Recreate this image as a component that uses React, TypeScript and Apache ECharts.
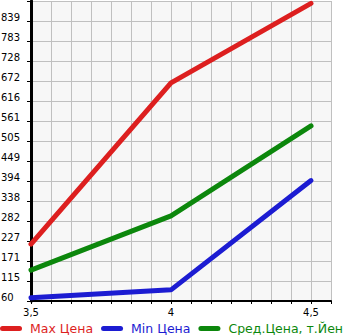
import React, { useEffect, useRef } from "react";
import * as echarts from "echarts";

const engineSizes = [3.5, 4, 4.5];
const maxPrice = [218, 667, 888];
const minPrice = [69, 91, 395];
const avgPrice = [146, 297, 547];
const yTickLabels = ["60", "115", "171", "227", "282", "338", "394", "449", "505", "561", "616", "672", "728", "783", "839"];
const xTickLabels: Record<string, string> = { "3.5": "3,5", "4": "4", "4.5": "4,5" };
const seriesNames = ["Max Цена", "Min Цена", "Сред.Цена, т.Йен"];
const seriesColors = ["#dd1f1f", "#1c1cd2", "#0c870c"];

const Y_MIN = 60;
const Y_STEP = (839 - 60) / 14;
const X_STEP = 1 / 14;

export default function App() {
  const ref = useRef<HTMLDivElement>(null);
  useEffect(() => {
    if (!ref.current) return;
    const chart = echarts.init(ref.current, null, { renderer: "svg" });
    const font = "DejaVu Sans";
    const mk = (vals: number[]) => engineSizes.map((x, i) => [x, vals[i]]);
    const all = [maxPrice, minPrice, avgPrice];
    chart.setOption({
      animation: false,
      grid: {
        left: 31,
        top: 1,
        right: 14,
        bottom: 34,
        containLabel: false,
        outerBoundsMode: "none",
        show: true,
        backgroundColor: "#f7f7f7",
        borderWidth: 0,
      },
      legend: {
        left: 0,
        top: 322,
        padding: 0,
        itemWidth: 22,
        itemHeight: 5,
        itemGap: 8,
        icon: "path://M2.5,0 L19.5,0 A2.5,2.5 0 0 1 19.5,5 L2.5,5 A2.5,2.5 0 0 1 2.5,0 Z",
        textStyle: { fontFamily: font, fontSize: 12.5, padding: [0, 0, 0, 3] },
        data: seriesNames.map((n, i) => ({ name: n, textStyle: { color: seriesColors[i] } })),
      },
      xAxis: {
        type: "value",
        min: 3.5,
        max: 4.5 + X_STEP,
        interval: X_STEP,
        axisLine: { show: true, onZero: false, lineStyle: { color: "#000", width: 2 } },
        axisTick: { show: true, length: 3, lineStyle: { color: "#000", width: 1 } },
        splitLine: { show: true, lineStyle: { color: "#c0c0c0", width: 1 } },
        axisLabel: {
          fontFamily: font,
          fontSize: 10,
          color: "#000",
          margin: 6,
          showMaxLabel: false,
          formatter: (v: number) => {
            const key = String(Math.round(v * 100) / 100);
            return xTickLabels[key] ?? "";
          },
        },
      },
      yAxis: {
        type: "value",
        min: Y_MIN,
        max: Y_MIN + 15 * Y_STEP,
        interval: Y_STEP,
        axisLine: { show: true, onZero: false, lineStyle: { color: "#000", width: 3 } },
        axisTick: { show: true, length: 4, lineStyle: { color: "#000", width: 1 } },
        splitLine: { show: true, lineStyle: { color: "#c0c0c0", width: 1 } },
        axisLabel: {
          fontFamily: font,
          fontSize: 10,
          color: "#000",
          align: "left",
          margin: 30,
          verticalAlign: "bottom",
          lineHeight: 8,
          formatter: (v: number) => {
            const idx = Math.round((v - Y_MIN) / Y_STEP);
            return yTickLabels[idx] ?? "";
          },
        },
      },
      series: all.map((vals, i) => ({
        name: seriesNames[i],
        type: "line",
        data: mk(vals),
        showSymbol: false,
        symbol: "none",
        color: seriesColors[i],
        lineStyle: { width: 5, color: seriesColors[i], cap: "round", join: "round" },
        z: 3 - i,
      })),
    });
    return () => chart.dispose();
  }, []);
  return <div ref={ref} style={{ width: 345, height: 335, position: "absolute", left: 0, top: 0 }} />;
}
